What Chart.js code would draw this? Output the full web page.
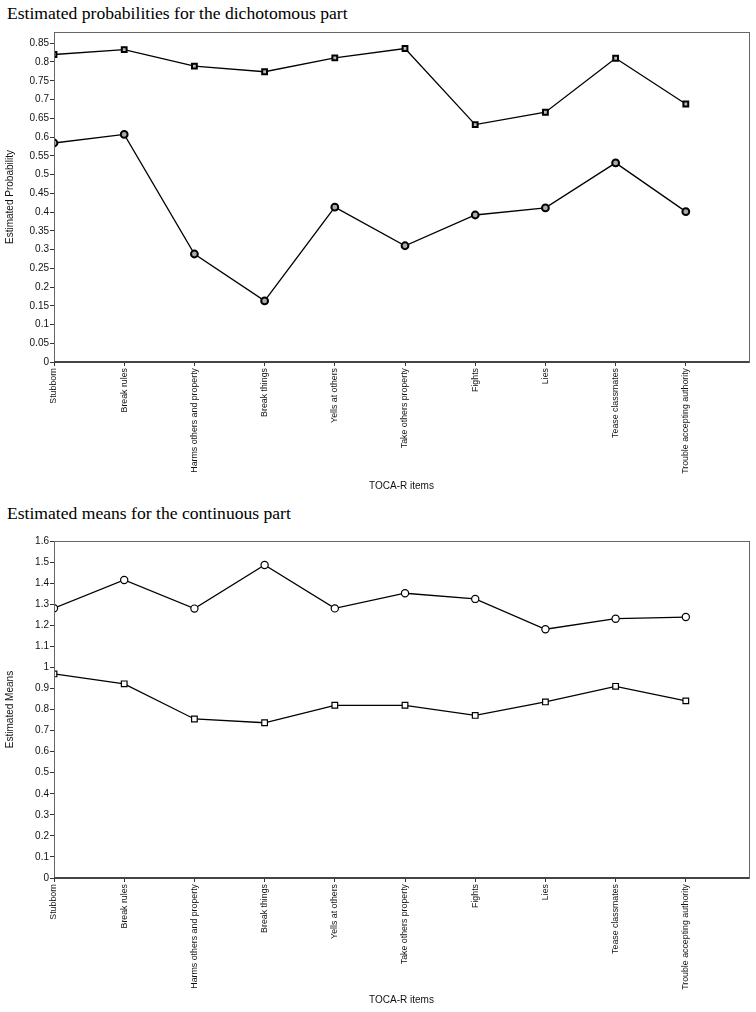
<!DOCTYPE html>
<html>
<head>
<meta charset="utf-8">
<script src="https://cdn.jsdelivr.net/npm/chart.js@4/dist/chart.umd.min.js"></script>
<style>
  body { margin: 0; background: #fff; width: 756px; height: 1012px; position: relative; overflow: hidden; }
  .title { position: absolute; left: 7px; font-family: "Liberation Serif", "DejaVu Serif", serif; font-size: 17.6px; color: #000; white-space: nowrap; }
  .box { position: absolute; left: 0; width: 756px; }
</style>
</head>
<body>
<div class="title" style="top:3px;">Estimated probabilities for the dichotomous part</div>
<div class="box" style="top:24px;height:472px;"><canvas id="probChart"></canvas></div>
<div class="title" style="top:503px;">Estimated means for the continuous part</div>
<div class="box" style="top:530px;height:480px;"><canvas id="meansChart"></canvas></div>
<script>
// TOCA-R items (x axis)
const items = ['Stubborn', 'Break rules', 'Harms others and property', 'Break things', 'Yells at others',
    'Take others property', 'Fights', 'Lies', 'Tease classmates', 'Trouble accepting authority'];

// dichotomous part: estimated probabilities
const probUpper = [0.820, 0.833, 0.789, 0.774, 0.811, 0.836, 0.633, 0.666, 0.810, 0.688];
const probLower = [0.584, 0.607, 0.288, 0.163, 0.413, 0.310, 0.392, 0.411, 0.531, 0.401];

// continuous part: estimated means
const meansUpper = [1.281, 1.415, 1.279, 1.486, 1.280, 1.352, 1.325, 1.181, 1.231, 1.239];
const meansLower = [0.969, 0.922, 0.755, 0.737, 0.820, 0.820, 0.772, 0.836, 0.910, 0.841];

const family = "'Liberation Sans', Arial, sans-serif";

// grey frame round the plot area
const framePlugin = {
    id: 'frame',
    afterDraw(chart) {
        const a = chart.chartArea;
        const ctx = chart.ctx;
        ctx.save();
        ctx.strokeStyle = '#666';
        ctx.lineWidth = 1;
        ctx.strokeRect(a.left + 0.5, a.top + 0.5, a.right - a.left, a.bottom - a.top);
        ctx.strokeStyle = '#444';
        ctx.lineWidth = 2;
        ctx.beginPath();
        ctx.moveTo(a.left, a.bottom);
        ctx.lineTo(a.right, a.bottom);
        ctx.stroke();
        ctx.restore();
    }
};

function toPoints(values) {
    return values.map((v, i) => ({ x: i, y: v }));
}

function makeChart(id, opts) {
    const ctx = document.getElementById(id).getContext('2d');
    return new Chart(ctx, {
        type: 'line',
        data: { datasets: opts.datasets },
        options: {
            responsive: true,
            maintainAspectRatio: false,
            animation: false,
            layout: { padding: { top: opts.top, right: 7, left: 0, bottom: 0 } },
            scales: {
                x: {
                    type: 'linear',
                    min: 0,
                    max: 9.9,
                    afterFit: s => { s.height = opts.xHeight; },
                    grid: { display: true, drawOnChartArea: false, drawTicks: true, tickLength: 4, color: '#333' },
                    border: { display: false },
                    ticks: {
                        stepSize: 1,
                        includeBounds: false,
                        autoSkip: false,
                        maxRotation: 90,
                        minRotation: 90,
                        padding: 2,
                        color: '#111',
                        font: { family: family, size: 8.8 },
                        callback: v => items[v] !== undefined ? items[v] : ''
                    },
                    title: { display: true, text: 'TOCA-R items', color: '#111', font: { family: family, size: 10 }, padding: { top: 4, bottom: 4 } }
                },
                y: {
                    min: 0,
                    max: opts.yMax,
                    afterFit: s => { s.width = 54; },
                    grid: { display: true, drawOnChartArea: false, drawTicks: true, tickLength: 4, color: '#333' },
                    border: { display: false },
                    ticks: {
                        stepSize: opts.yStep,
                        includeBounds: false,
                        padding: 1,
                        color: '#111',
                        font: { family: family, size: 10 },
                        callback: v => String(parseFloat(v.toFixed(2)))
                    },
                    title: { display: true, text: opts.yTitle, color: '#111', font: { family: family, size: 10 }, padding: { top: 4, bottom: 2 } }
                }
            },
            plugins: {
                legend: { display: false },
                tooltip: { enabled: false }
            }
        },
        plugins: [framePlugin]
    });
}

function series(values, style) {
    return Object.assign({
        data: toPoints(values),
        borderColor: '#000',
        borderWidth: 1.3,
        pointBorderColor: '#000',
        tension: 0,
        clip: { left: 0, top: false, right: false, bottom: false }
    }, style);
}

makeChart('probChart', {
    top: 8,
    xHeight: 134,
    yMax: 0.88,
    yStep: 0.05,
    yTitle: 'Estimated Probability',
    datasets: [
        series(probUpper, { pointStyle: 'rect', pointRadius: 3.4, pointBorderWidth: 2, pointBackgroundColor: '#bbb' }),
        series(probLower, { pointStyle: 'circle', pointRadius: 3.4, pointBorderWidth: 2, pointBackgroundColor: '#aaa' })
    ]
});

makeChart('meansChart', {
    top: 11,
    xHeight: 132,
    yMax: 1.6,
    yStep: 0.1,
    yTitle: 'Estimated Means',
    datasets: [
        series(meansUpper, { pointStyle: 'circle', pointRadius: 3.6, pointBorderWidth: 1.2, pointBackgroundColor: '#fff' }),
        series(meansLower, { pointStyle: 'rect', pointRadius: 4, pointBorderWidth: 1.2, pointBackgroundColor: '#fff' })
    ]
});
</script>
</body>
</html>
